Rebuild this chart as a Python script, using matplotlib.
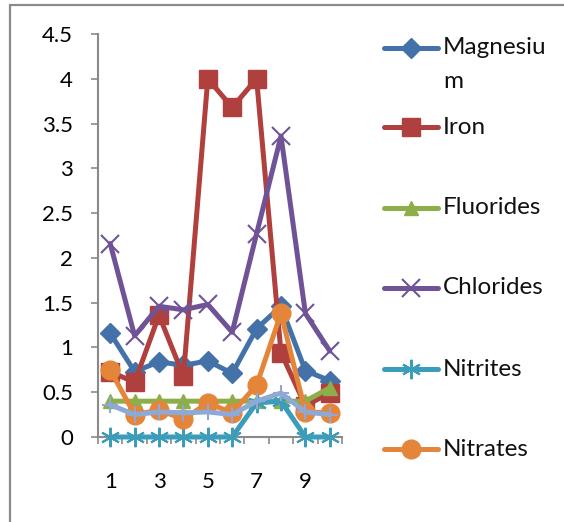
import matplotlib
matplotlib.use("Agg")
import matplotlib.pyplot as plt
from matplotlib.lines import Line2D
from matplotlib.patches import Rectangle

plt.rcParams['font.family'] = ['Lato', 'DejaVu Sans']

samples = [1, 2, 3, 4, 5, 6, 7, 8, 9, 10]
magnesium = [1.16, 0.73, 0.84, 0.80, 0.85, 0.71, 1.21, 1.46, 0.74, 0.63]
iron = [0.73, 0.61, 1.36, 0.68, 4.0, 3.68, 4.0, 0.94, 0.35, 0.49]
fluorides = [0.40, 0.40, 0.40, 0.40, 0.40, 0.40, 0.40, 0.40, 0.40, 0.55]
chlorides = [2.16, 1.13, 1.46, 1.42, 1.48, 1.17, 2.27, 3.36, 1.38, 0.96]
nitrites = [0, 0, 0, 0, 0, 0, 0.38, 0.40, 0, 0]
nitrates = [0.75, 0.25, 0.30, 0.20, 0.38, 0.27, 0.58, 1.38, 0.28, 0.27]
series7 = [0.36, 0.25, 0.28, 0.27, 0.28, 0.25, 0.40, 0.49, 0.28, 0.25]

names = ["Magnesium", "Iron", "Fluorides", "Chlorides", "Nitrites", "Nitrates"]
legend_lines = [["Magnesiu", "m"], ["Iron"], ["Fluorides"], ["Chlorides"], ["Nitrites"], ["Nitrates"]]
yticks = [0, 0.5, 1, 1.5, 2, 2.5, 3, 3.5, 4, 4.5]
ytick_labels = ["0", "0.5", "1", "1.5", "2", "2.5", "3", "3.5", "4", "4.5"]
xtick_labels = ["1", "", "3", "", "5", "", "7", "", "9", ""]

colors = ["#4472A8", "#B0403D", "#8CAF4A", "#6F5396", "#3C9DBA", "#E5853A", "#8FA9D6"]
markers = ["D", "s", "^", "x", (6, 2, 0), "o", "+"]
msizes = [10, 13, 10.5, 13, 14, 13.5, 12]
line_markers = ("x", "+")

W, H = 564, 522
fig = plt.figure(figsize=(W / 100, H / 100), dpi=100)
fig.patches.append(Rectangle((10 / W, -0.2), 1.2, 1.2 - 5 / H, transform=fig.transFigure,
                             fill=False, edgecolor="#8a8a8a", linewidth=1.6))

ax = fig.add_axes([98 / W, 1 - 437 / H, (342 - 98) / W, (437 - 34) / H])

all_series = [magnesium, iron, fluorides, chlorides, nitrites, nitrates, series7]
for i, s in enumerate(all_series):
    mk = markers[i]
    kw = dict(color=colors[i], linewidth=3.6, marker=mk, markersize=msizes[i],
              markerfacecolor=colors[i], markeredgecolor=colors[i], solid_joinstyle='round',
              solid_capstyle='round', zorder=3 + i, clip_on=False)
    if mk in line_markers or isinstance(mk, tuple):
        kw["markeredgewidth"] = 1.5
    ax.plot(samples, s, **kw)

ax.set_xlim(0.5, 10.5)
ax.set_ylim(0, 4.5)
ax.set_yticks(yticks)
ax.set_yticklabels(ytick_labels)
ax.set_xticks(samples)
ax.set_xticklabels(xtick_labels)
ax.set_xticks([x + 0.5 for x in range(0, 11)], minor=True)
ax.tick_params(axis='x', which='major', length=0, pad=25, labelsize=16)
ax.tick_params(axis='x', which='minor', length=5, width=1.2, color="#8a8a8a", direction='out')
ax.tick_params(axis='y', which='major', length=5, width=1.2, color="#8a8a8a", pad=13, labelsize=16)
for sp in ("top", "right"):
    ax.spines[sp].set_visible(False)
for sp in ("left", "bottom"):
    ax.spines[sp].set_color("#8a8a8a")
    ax.spines[sp].set_linewidth(1.5)
ax.patch.set_alpha(0)

# Legend (Excel style, clipped at the bottom)
ys = [48, 127, 208, 288, 369, 449]
for i, name in enumerate(names):
    y = 1 - ys[i] / H
    fig.add_artist(Line2D([384 / W, 438 / W], [y, y], transform=fig.transFigure,
                          color=colors[i], linewidth=3.6, solid_capstyle='round'))
    mkw = dict(marker=markers[i], markersize=msizes[i], color=colors[i],
               markerfacecolor=colors[i], markeredgecolor=colors[i], linestyle='none')
    if markers[i] in line_markers or isinstance(markers[i], tuple):
        mkw["markeredgewidth"] = 1.5
    fig.add_artist(Line2D([411 / W], [y], transform=fig.transFigure, **mkw))
    for j, ln in enumerate(legend_lines[i]):
        fig.text(443 / W, 1 - (ys[i] + 33 * j) / H, ln, fontsize=17.5, va='center', ha='left',
                 color="#111111")

fig.savefig("out.png", dpi=100)
